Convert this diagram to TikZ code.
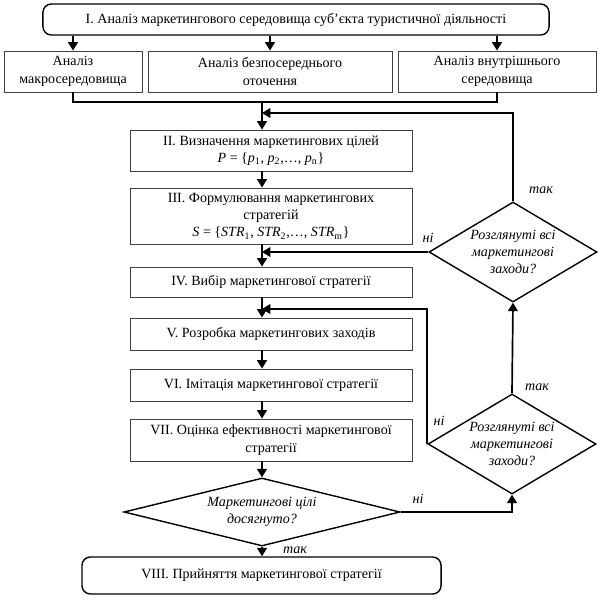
\documentclass[tikz,border=0pt]{standalone}
\usepackage{fontspec}
\setmainfont{Liberation Serif}
\usetikzlibrary{arrows.meta,shapes.geometric}

\begin{document}
\begin{tikzpicture}[x=0.025cm,y=-0.025cm,font=\fontsize{10}{12.4}\selectfont,
  box/.style={draw=black!75,line width=0.6pt,align=center,inner sep=1pt,minimum width=7.05cm},
  stage/.style={draw,line width=1pt,rounded corners=6pt,align=center},
  ask/.style={draw,line width=1pt,diamond,inner sep=0pt,align=center,font=\fontsize{10}{12.4}\selectfont\itshape},
  lbl/.style={font=\fontsize{10}{12.4}\selectfont\itshape},
  line/.style={line width=1.2pt},
  arr/.style={line width=1.2pt,-{Triangle[length=6pt,width=7pt]}}]
\useasboundingbox (0,0) rectangle (600,600);
% stage I and its three parts
\node[stage,minimum width=12.65cm,minimum height=0.775cm] (top) at (296,19.5) {I. Аналіз маркетингового середовища суб’єкта туристичної діяльності};
\node[box,minimum width=3.45cm,minimum height=1.025cm] (macro) at (73,71.5) {Аналіз\\макросередовища};
\node[box,minimum width=6.1cm,minimum height=1.025cm] (env) at (270,71.5) {Аналіз безпосереднього\\оточення};
\node[box,minimum width=4.95cm,minimum height=1.025cm] (inner) at (497,71.5) {Аналіз внутрішнього\\середовища};
% main column
\node[box,minimum height=1.025cm] (goals) at (271,150.5) {II. Визначення маркетингових цілей\\\textit{P} = \{\textit{p}\textsubscript{1}, \textit{p}\textsubscript{2},\ldots, \textit{p}\textsubscript{n}\}};
\node[box,minimum height=1.4cm] (strat) at (271,216) {III. Формулювання маркетингових\\стратегій\\\textit{S} = \{\textit{STR}\textsubscript{1}, \textit{STR}\textsubscript{2},\ldots, \textit{STR}\textsubscript{m}\}};
\node[box,minimum height=0.75cm] (choice) at (271,282) {IV. Вибір маркетингової стратегії};
\node[box,minimum height=0.8cm] (measures) at (271,334) {V. Розробка маркетингових заходів};
\node[box,minimum height=0.8cm] (imit) at (271,385) {VI. Імітація маркетингової стратегії};
\node[box,minimum height=1.05cm] (eval) at (271,440) {VII. Оцінка ефективності маркетингової\\стратегії};
\node[ask,shape aspect=4,minimum width=6.9cm,minimum height=1.7cm] (reached) at (262,512) {Маркетингові цілі\\досягнуто?};
\node[stage,minimum width=8.975cm,minimum height=0.925cm] (accept) at (261.5,575.5) {VIII. Прийняття маркетингової стратегії};
% checks on the right
\node[ask,shape aspect=1.68,minimum width=4.2cm,minimum height=2.5cm] (checkA) at (513,252) {Розглянуті всі\\маркетингові\\заходи?};
\node[ask,shape aspect=1.68,minimum width=4.2cm,minimum height=2.5cm] (checkB) at (512,444) {Розглянуті всі\\маркетингові\\заходи?};
\coordinate (join) at (262,102);
\coordinate (backA) at (262,113);
\coordinate (backB) at (262,309);
% connectors
\draw[arr] (macro.north |- top.south) -- (macro.north);
\draw[arr] (env.north |- top.south) -- (env.north);
\draw[arr] (inner.north |- top.south) -- (inner.north);
\draw[line] (macro.south) |- (join) -| (inner.south);
\draw[arr] (join) -- (join |- goals.north);
\draw[arr] (join |- goals.south) -- (join |- strat.north);
\draw[arr] (join |- strat.south) -- (join |- choice.north);
\draw[arr] (join |- choice.south) -- (join |- measures.north);
\draw[arr] (join |- measures.south) -- (join |- imit.north);
\draw[arr] (join |- imit.south) -- (join |- eval.north);
\draw[arr] (join |- eval.south) -- (reached.north);
\draw[arr] (reached.south) -- (accept.north -| reached.south);
\draw[arr] (reached.east) -| (checkB.south);
\draw[arr] (checkB.north) -- (checkA.south);
\draw[arr] (checkA.north) |- (backA);
\draw[arr] (checkA.west) -- (checkA.west -| join);
\draw[arr] (checkB.west) |- (backB);
% answers
\node[lbl] (yesA) at (541,190) {так};
\node[lbl] (noA) at (428,238) {ні};
\node[lbl] (yesB) at (537,387) {так};
\node[lbl] (noB) at (439,421) {ні};
\node[lbl] (noC) at (418,499) {ні};
\node[lbl] (yesC) at (295,550) {так};
\end{tikzpicture}
\end{document}
